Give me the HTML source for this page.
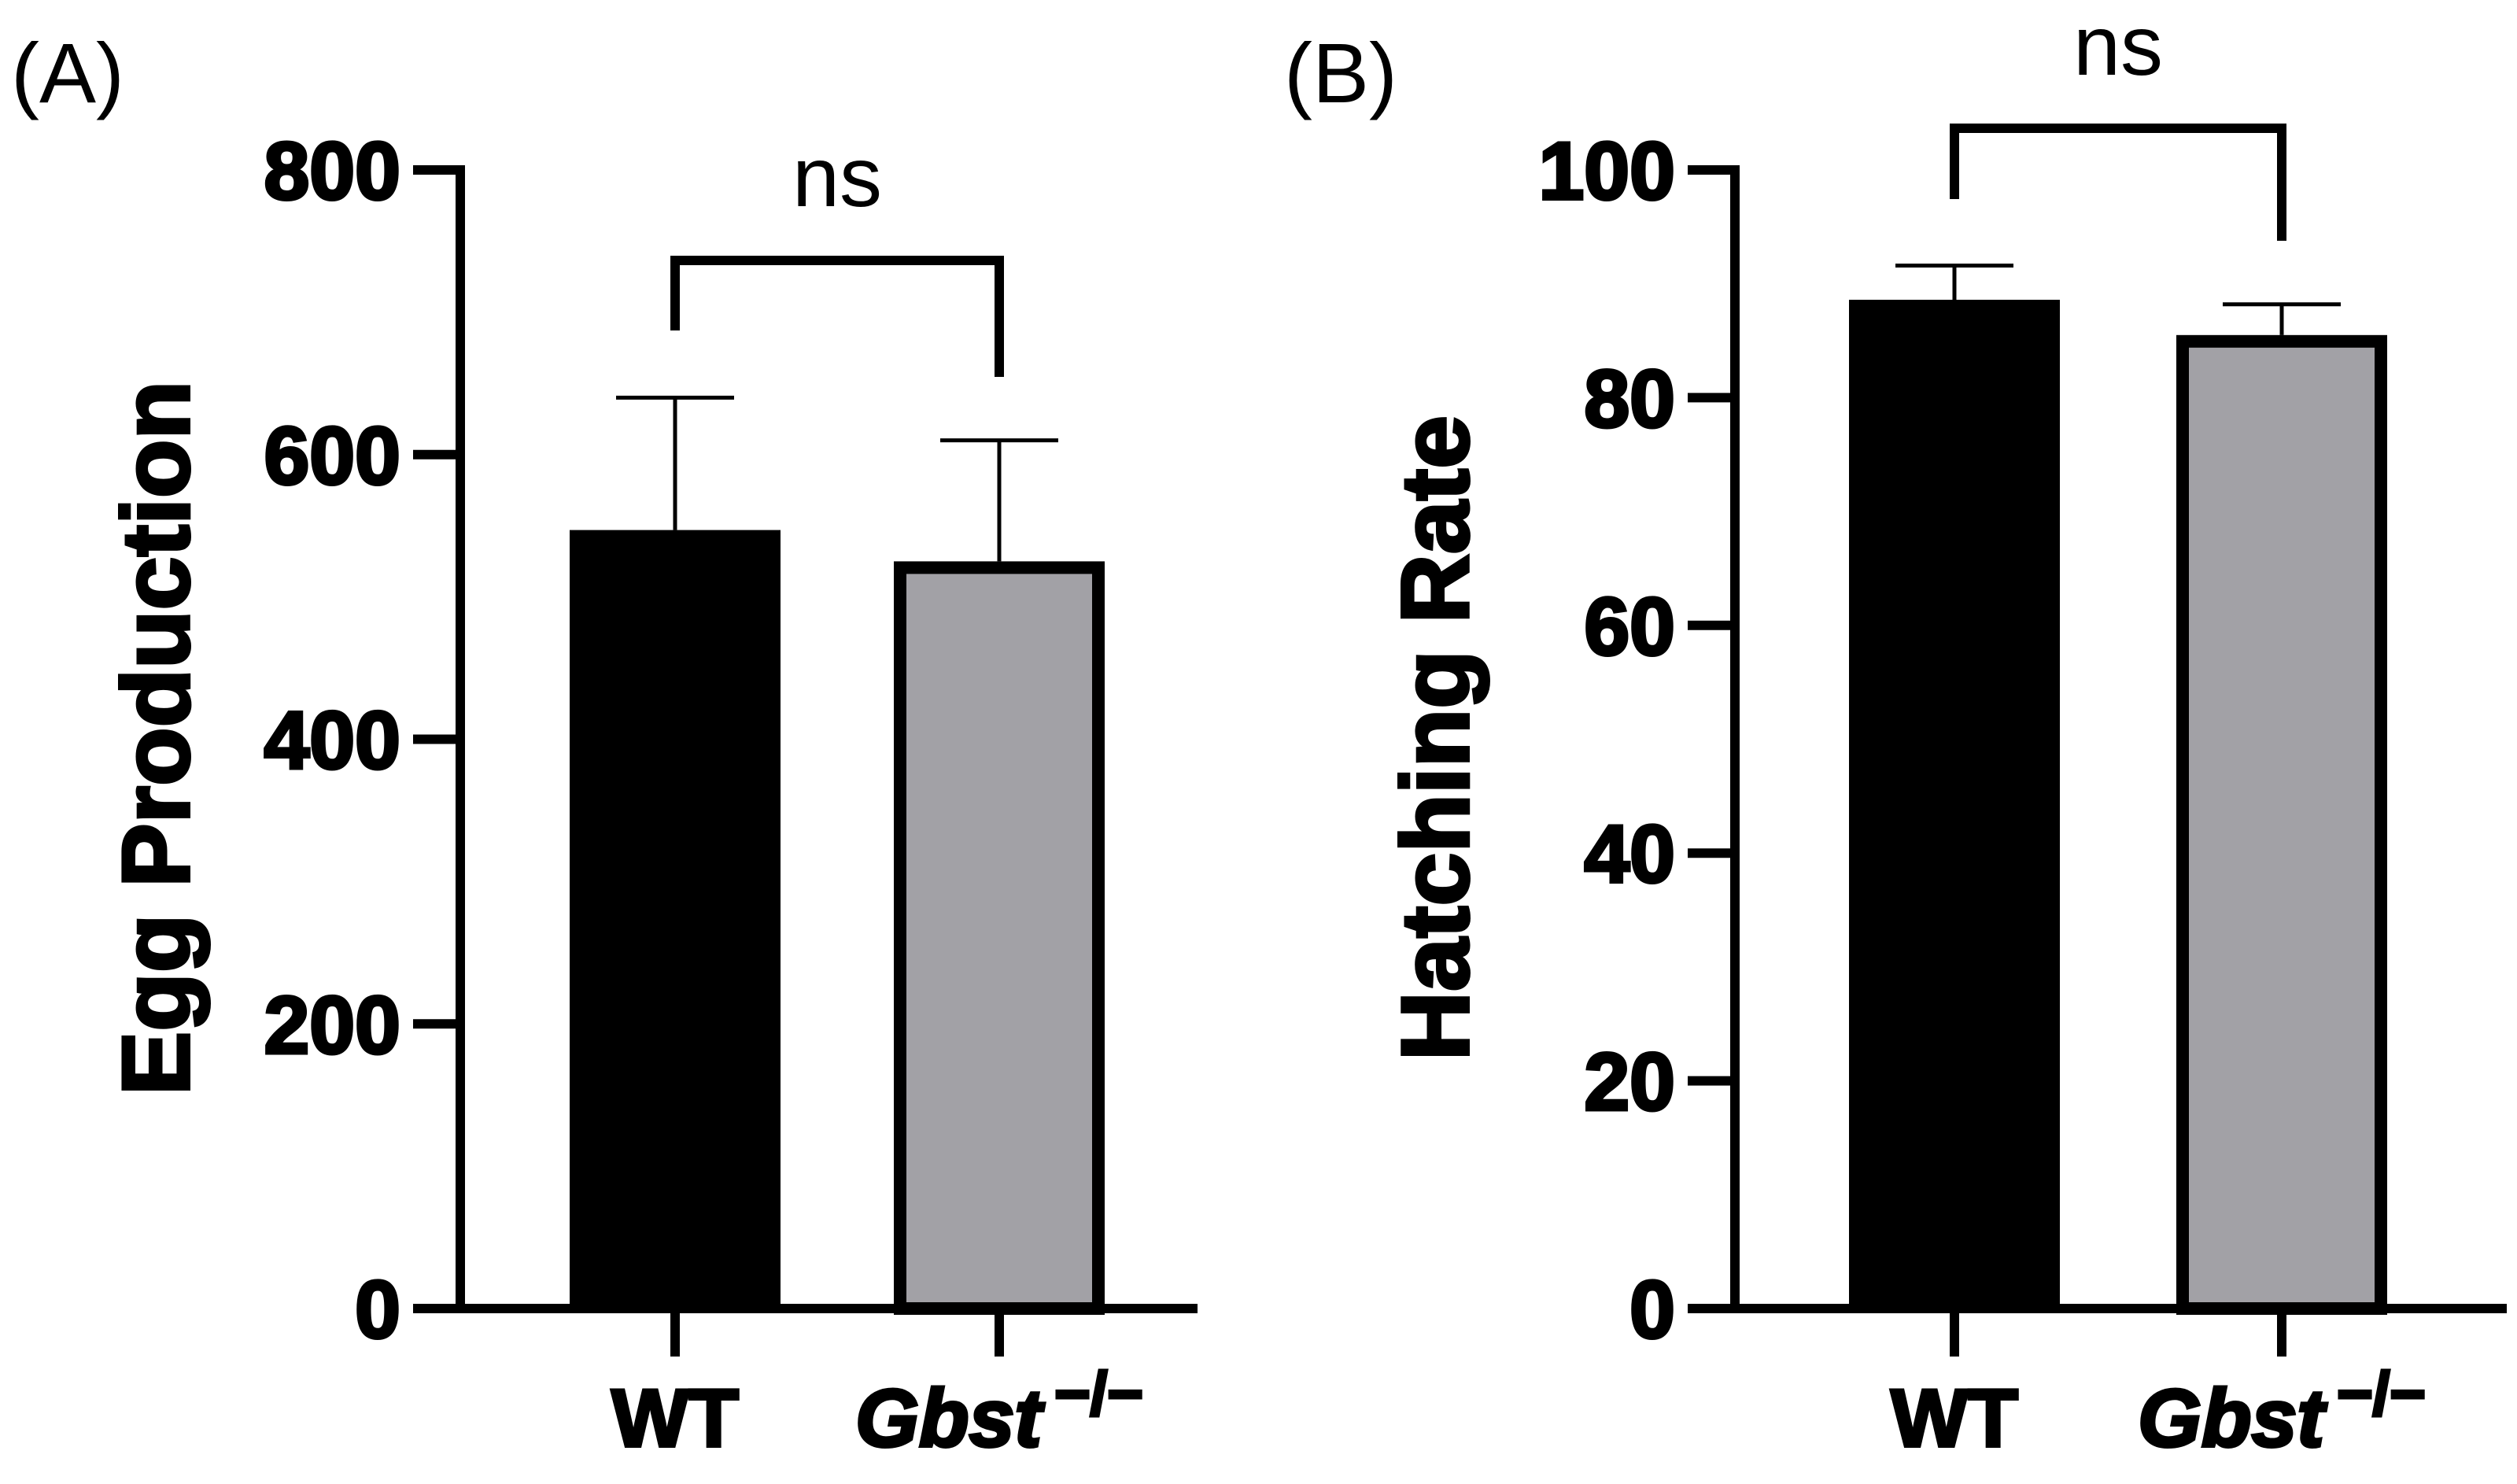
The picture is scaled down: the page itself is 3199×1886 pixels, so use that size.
<!DOCTYPE html>
<html><head><meta charset="utf-8"><style>
html,body{margin:0;padding:0;background:#fff;}
svg{display:block;font-family:"Liberation Sans",Arial,sans-serif;}
</style></head><body>
<svg id="chart" width="3199" height="1886" viewBox="0 0 3199 1886" xmlns="http://www.w3.org/2000/svg"></svg>
<script>
const categories = ["WT", "Gbst"];
const eggValues = [547, 525];
const eggErrors = [93, 85];
const eggTicks = [0, 200, 400, 600, 800];
const hatchValues = [88.6, 85.5];
const hatchErrors = [3.0, 2.7];
const hatchTicks = [0, 20, 40, 60, 80, 100];

const NS = "http://www.w3.org/2000/svg";
const svg = document.getElementById("chart");
function el(tag, attrs, parent, text) {
  const e = document.createElementNS(NS, tag);
  for (const k in attrs) e.setAttribute(k, attrs[k]);
  if (text !== undefined) e.textContent = text;
  (parent || svg).appendChild(e);
  return e;
}
const heavy = {"font-weight": "bold", stroke: "#000", "stroke-width": 4, "paint-order": "stroke"};

function panel(cfg) {
  const g = el("g", {});
  
  
  const y0 = 1663, yTop = 216;
  const y = v => y0 - (v / cfg.max) * (y0 - yTop);
  const ax = cfg.axisX;
  cfg.values.forEach((v, i) => {
    const bx = cfg.barX[i], bw = cfg.barW;
    const top = y(v);
    const e = el("line", {x1: bx + bw/2, x2: bx + bw/2, y1: top, y2: y(v + cfg.errors[i]), stroke: "#000", "stroke-width": 5}, g);
    
    
    const c = el("line", {x1: bx + bw/2 - 75, x2: bx + bw/2 + 75, y1: y(v + cfg.errors[i]), y2: y(v + cfg.errors[i]), stroke: "#000", "stroke-width": 5}, g);
    
    
    let r;
    if (i === 0) {
      r = el("rect", {x: bx, y: top, width: bw, height: y0 - top, fill: "#000"}, g);
    } else {
      r = el("rect", {x: bx + 8, y: top + 8, width: bw - 16, height: y0 - top - 8, fill: "#a2a1a6", stroke: "#000", "stroke-width": 16}, g);
    }
    
    
  });
  const ya = el("line", {x1: ax, x2: ax, y1: yTop - 6, y2: y0 + 6, stroke: "#000", "stroke-width": 12}, g);
  
  
  cfg.ticks.forEach(t => {
    const tl = el("line", {x1: ax - 60, x2: ax, y1: y(t), y2: y(t), stroke: "#000", "stroke-width": 12}, g);
    
    
    const tx = el("text", Object.assign({x: ax - 76, y: y(t) + 37, "text-anchor": "end", "font-size": 104}, heavy), g, String(t));
    
    
  });
  const xa = el("line", {x1: ax - 60, x2: cfg.xEnd, y1: y0, y2: y0, stroke: "#000", "stroke-width": 12}, g);
  
  
  categories.forEach((cat, i) => {
    const cx = cfg.barX[i] + cfg.barW / 2;
    const xt = el("line", {x1: cx, x2: cx, y1: y0, y2: 1724, stroke: "#000", "stroke-width": 12}, g);
    
    
    const lab = el("text", Object.assign({x: cx, y: 1838, "text-anchor": "middle", "font-size": 104}, heavy), g);
    
    
    if (i === 0) { lab.textContent = cat; }
    else {
      el("tspan", {"font-style": "italic"}, lab, "Gbst");
      el("tspan", {"font-size": 78, dy: -40, dx: 16}, lab, "\u2212/\u2212");
    }
  });
  const bx1 = cfg.barX[0] + cfg.barW/2, bx2 = cfg.barX[1] + cfg.barW/2;
  const br = el("path", {d: `M${bx1},${cfg.brLeft} V${cfg.brTop} H${bx2} V${cfg.brRight}`, fill: "none", stroke: "#000", "stroke-width": 12}, g);
  
  
  const ns = el("text", {x: (bx1 + bx2) / 2, y: cfg.nsY, "text-anchor": "middle", "font-size": 108}, g, "ns");
  
  
  const yt = el("text", Object.assign({x: 0, y: 0, transform: `translate(${cfg.titleX},938) rotate(-90)`, "text-anchor": "middle", "font-size": 122}, heavy), g, cfg.title);
  
  
  const pl = el("text", {x: cfg.labelX, y: 130, "font-size": 108}, g, cfg.label);
  
  
}

panel({name: "panel-a-egg-production", values: eggValues, errors: eggErrors, ticks: eggTicks, max: 800,
  axisX: 585, barX: [724, 1136], barW: 268, xEnd: 1522,
  brTop: 331, brLeft: 420, brRight: 479, nsY: 262, title: "Egg Production", titleX: 240, label: "(A)", labelX: 14});
panel({name: "panel-b-hatching-rate", values: hatchValues, errors: hatchErrors, ticks: hatchTicks, max: 100,
  axisX: 2205, barX: [2350, 2766], barW: 268, xEnd: 3186,
  brTop: 163, brLeft: 253, brRight: 306, nsY: 95, title: "Hatching Rate", titleX: 1866, label: "(B)", labelX: 1632});
</script>
</body></html>
